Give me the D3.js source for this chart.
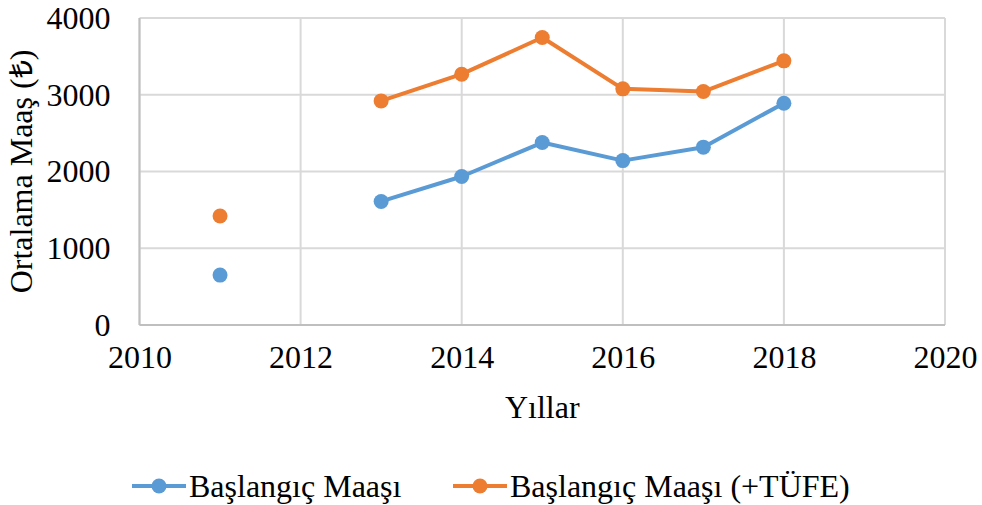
<!DOCTYPE html>
<html>
<head>
<meta charset="utf-8">
<script src="https://cdn.jsdelivr.net/npm/d3@7"></script>
<style>
  body { margin: 0; background: #fff; }
  text { font-family: "Liberation Serif", "Times New Roman", serif; fill: #000; }
</style>
</head>
<body>
<script>
// data (2012 has no value)
const years = [2011, 2012, 2013, 2014, 2015, 2016, 2017, 2018];
const salary = [650, null, 1610, 1935, 2377, 2142, 2317, 2890];
const salaryCpi = [1420, null, 2920, 3268, 3746, 3077, 3042, 3442];
const seriesNames = ['Başlangıç Maaşı', 'Başlangıç Maaşı (+TÜFE)'];
const seriesColors = ['#5b9bd5', '#ed7d31'];
const xTicks = [2010, 2012, 2014, 2016, 2018, 2020];
const yTicks = [0, 1000, 2000, 3000, 4000];

const width = 982, height = 505;
const margin = { top: 18, right: 37, bottom: 180, left: 139.5 };
const plotW = width - margin.left - margin.right;
const plotH = height - margin.top - margin.bottom;
const fontSize = '32px';

const xScale = d3.scaleLinear().domain([2010, 2020]).range([0, plotW]);
const yScale = d3.scaleLinear().domain([0, 4000]).range([plotH, 0]);

const svg = d3.select('body').append('svg')
  .attr('width', width)
  .attr('height', height);

const graph = svg.append('g')
  .attr('transform', `translate(${margin.left},${margin.top})`);

// gridlines
graph.append('g')
  .selectAll('line')
  .data(yTicks)
  .join('line')
  .attr('x1', 0).attr('x2', plotW)
  .attr('y1', d => yScale(d)).attr('y2', d => yScale(d))
  .attr('stroke', '#d9d9d9')
  .attr('stroke-width', 2);

graph.append('g')
  .selectAll('line')
  .data(xTicks)
  .join('line')
  .attr('y1', 0).attr('y2', plotH)
  .attr('x1', d => xScale(d)).attr('x2', d => xScale(d))
  .attr('stroke', '#d9d9d9')
  .attr('stroke-width', 2);

// axes frame (left + bottom a little darker)
graph.append('line')
  .attr('x1', 0).attr('x2', 0).attr('y1', 0).attr('y2', plotH)
  .attr('stroke', '#bfbfbf').attr('stroke-width', 2);
graph.append('line')
  .attr('x1', 0).attr('x2', plotW).attr('y1', plotH).attr('y2', plotH)
  .attr('stroke', '#bfbfbf').attr('stroke-width', 2);

// tick labels
const yAxis = d3.axisLeft(yScale).tickValues(yTicks).tickFormat(d3.format('d')).tickSize(0).tickPadding(29);
const yGuide = graph.append('g').call(yAxis);
yGuide.select('.domain').remove();
yGuide.selectAll('text')
  .style('font-family', '"Liberation Serif", serif')
  .style('font-size', fontSize)
  .attr('fill', '#000');

const xAxis = d3.axisBottom(xScale).tickValues(xTicks).tickFormat(d3.format('d')).tickSize(0).tickPadding(20);
const xGuide = graph.append('g')
  .attr('transform', `translate(0,${plotH})`)
  .call(xAxis);
xGuide.select('.domain').remove();
xGuide.selectAll('text')
  .style('font-family', '"Liberation Serif", serif')
  .style('font-size', fontSize)
  .attr('fill', '#000');

// axis titles
svg.append('text')
  .attr('x', margin.left + plotW / 2)
  .attr('y', 418)
  .attr('text-anchor', 'middle')
  .style('font-size', fontSize)
  .text('Yıllar');

svg.append('text')
  .attr('transform', `translate(32,${margin.top + plotH / 2}) rotate(-90)`)
  .attr('text-anchor', 'middle')
  .style('font-size', fontSize)
  .text('Ortalama Maaş (₺)');

// series
const allSeries = [salary, salaryCpi];
const line = d3.line()
  .defined(d => d.v !== null)
  .x(d => xScale(d.year))
  .y(d => yScale(d.v));

allSeries.forEach((vals, i) => {
  const pts = years.map((year, j) => ({ year, v: vals[j] }));
  graph.append('path')
    .datum(pts)
    .attr('fill', 'none')
    .attr('stroke', seriesColors[i])
    .attr('stroke-width', 4)
    .attr('stroke-linejoin', 'round')
    .attr('d', line);
  graph.append('g')
    .selectAll('circle')
    .data(pts.filter(d => d.v !== null))
    .join('circle')
    .attr('cx', d => xScale(d.year))
    .attr('cy', d => yScale(d.v))
    .attr('r', 7.5)
    .attr('fill', seriesColors[i]);
});

// legend
const legendX = [132, 453];
const legendY = 486;
seriesNames.forEach((name, i) => {
  const lg = svg.append('g').attr('transform', `translate(${legendX[i]},${legendY})`);
  lg.append('line')
    .attr('x1', 0).attr('x2', 54)
    .attr('stroke', seriesColors[i])
    .attr('stroke-width', 4);
  lg.append('circle')
    .attr('cx', 27).attr('r', 7.5)
    .attr('fill', seriesColors[i]);
  lg.append('text')
    .attr('x', 57)
    .attr('dy', '0.35em')
    .style('font-size', fontSize)
    .text(name);
});
</script>
</body>
</html>
